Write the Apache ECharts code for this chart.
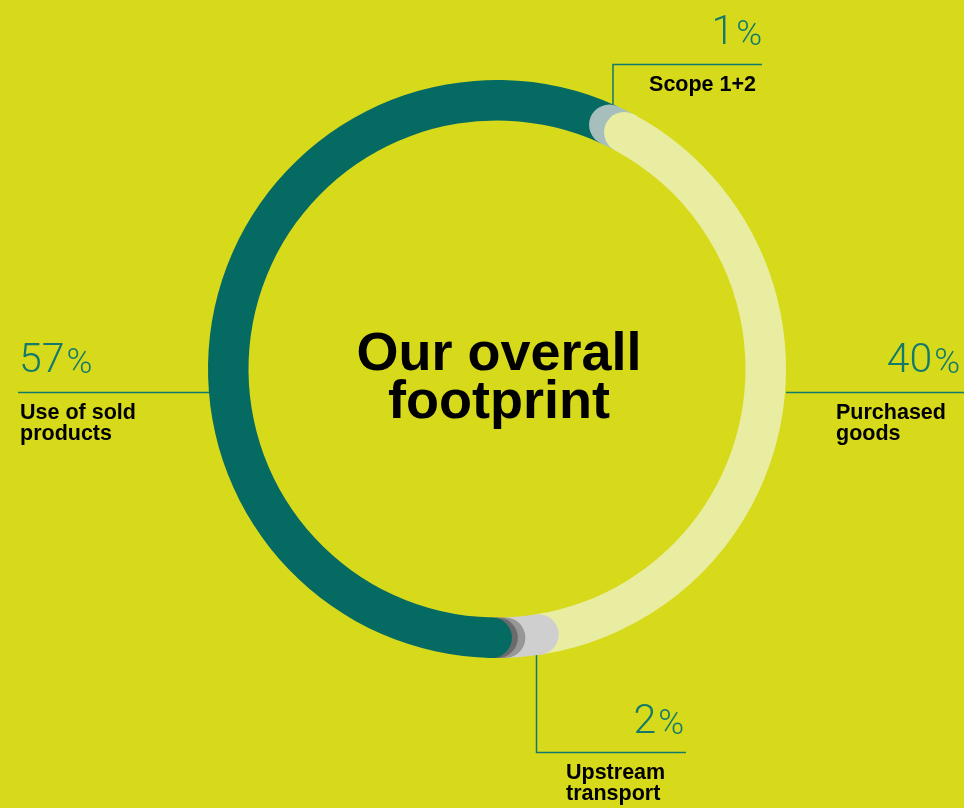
<!DOCTYPE html>
<html>
<head>
<meta charset="utf-8">
<title>Our overall footprint</title>
<script src="https://cdn.jsdelivr.net/npm/echarts@6/dist/echarts.min.js"></script>
<style>
  html, body { margin: 0; padding: 0; background: #d6da1b; }
  #chart { width: 964px; height: 808px; }
</style>
</head>
<body>
<div id="chart"></div>
<script>
// Emission categories, in clockwise order starting from Scope 1+2
const categories = ['Scope 1+2', 'Purchased goods', 'Upstream transport', 'Other upstream', 'Other downstream', 'Use of sold products'];
// Share of the footprint, percent
const values = [1, 40, 2, 0.45, 0.35, 57];
// Ring colours, one per category
const colors = ['#a7bfbc', '#e9eda1', '#cfcfcf', '#979797', '#6b6b6b', '#056a62'];

// Cumulative start of each category along the ring
const starts = [];
values.reduce((acc, v, i) => { starts[i] = acc; return acc + v; }, 0);
const total = values.reduce((a, b) => a + b, 0);

const teal = '#137a6b';
const labelFont = '"Liberation Sans", Arial, Helvetica, sans-serif';
const numFont = 'Roboto, "Open Sans", sans-serif';

function pct(name) {
  return '{n|' + values[categories.indexOf(name)] + '}{p|%}';
}
const pctRich = {
  n: { fontFamily: numFont, fontWeight: 300, fontSize: 41, fill: teal, verticalAlign: 'bottom' },
  p: { fontFamily: numFont, fontWeight: 300, fontSize: 35, fill: teal, verticalAlign: 'bottom', padding: [0, 0, 0, 2] }
};

function pctText(name, x, y, align) {
  return {
    type: 'text', x: x, y: y, silent: true,
    style: { text: pct(name), rich: pctRich, align: align, verticalAlign: 'bottom', fill: teal }
  };
}
function nameText(text, x, y, align) {
  return {
    type: 'text', x: x, y: y, silent: true,
    style: {
      text: text, align: align, verticalAlign: 'top', fill: '#000',
      fontFamily: labelFont, fontWeight: 'bold', fontSize: 21.5, lineHeight: 21.5
    }
  };
}
function leader(points) {
  return {
    type: 'polyline', silent: true,
    shape: { points: points },
    style: { stroke: teal, lineWidth: 1.5, fill: null }
  };
}

const chart = echarts.init(document.getElementById('chart'), null, { renderer: 'canvas' });

chart.setOption({
  backgroundColor: '#d6da1b',
  animation: false,
  polar: { center: [497, 369], radius: [248.5, 289] },
  angleAxis: {
    type: 'value', min: 0, max: total, startAngle: 65.3, clockwise: true, show: false
  },
  radiusAxis: { type: 'value', min: 0, max: 1, show: false },
  series: [{
    type: 'custom',
    coordinateSystem: 'polar',
    data: categories.map((c, i) => ({ name: c, value: [starts[i], starts[i] + values[i]] })),
    renderItem: function (params, api) {
      const cs = params.coordSys;
      const idx = params.dataIndex;
      const p0 = api.coord([0.5, api.value(0)]);
      const p1 = api.coord([0.5, api.value(1)]);
      let a0 = Math.atan2(p0[1] - cs.cy, p0[0] - cs.cx);
      let a1 = Math.atan2(p1[1] - cs.cy, p1[0] - cs.cx);
      while (a1 <= a0) a1 += Math.PI * 2;
      const fill = colors[idx];
      return {
        type: 'group',
        children: [
          {
            type: 'sector', z2: 0,
            shape: { cx: cs.cx, cy: cs.cy, r0: cs.r0, r: cs.r, startAngle: a0, endAngle: a1, clockwise: true },
            style: { fill: fill }
          },
          {
            // rounded leading cap, laid over the end of the previous category
            type: 'circle', z2: 10 + idx,
            shape: { cx: p0[0], cy: p0[1], r: (cs.r - cs.r0) / 2 },
            style: { fill: fill }
          }
        ]
      };
    }
  }],
  graphic: [
    // centre title
    {
      type: 'text', x: 499, y: 331, silent: true,
      style: {
        text: 'Our overall\nfootprint', align: 'center', verticalAlign: 'top', fill: '#000',
        fontFamily: labelFont, fontWeight: 'bold', fontSize: 54, lineHeight: 48
      }
    },
    // Scope 1+2
    pctText('Scope 1+2', 762, 54, 'right'),
    leader([[613, 108], [613, 64.5], [762, 64.5]]),
    nameText('Scope 1+2', 756, 74, 'right'),
    // Use of sold products
    pctText('Use of sold products', 19, 382, 'left'),
    leader([[18, 392.5], [209, 392.5]]),
    nameText('Use of sold\nproducts', 20, 402, 'left'),
    // Purchased goods
    pctText('Purchased goods', 960, 382, 'right'),
    leader([[786, 392.5], [964, 392.5]]),
    nameText('Purchased\ngoods', 836, 402, 'left'),
    // Upstream transport
    pctText('Upstream transport', 684, 743, 'right'),
    leader([[536.5, 655], [536.5, 752.5], [686, 752.5]]),
    nameText('Upstream\ntransport', 566, 762, 'left')
  ]
});
</script>
</body>
</html>
